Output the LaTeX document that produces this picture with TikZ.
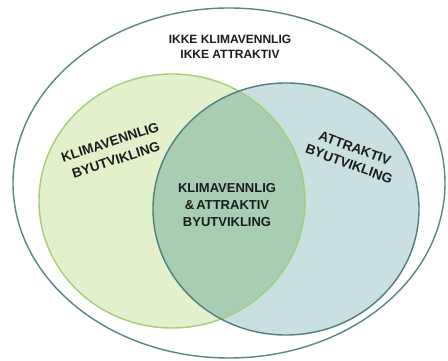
\documentclass[tikz,border=0pt]{standalone}
\usepackage{fontspec}
\setmainfont{Liberation Sans}
\definecolor{gfill}{HTML}{E3F0CC}
\definecolor{gline}{HTML}{A3CE78}
\definecolor{bfill}{HTML}{C9DFE0}
\definecolor{bline}{HTML}{4E7F80}
\definecolor{ifill}{HTML}{A8CDB3}
\definecolor{oline}{HTML}{5A8486}
\definecolor{txt}{HTML}{1C1C1C}
\begin{document}
\begin{tikzpicture}[x=1pt,y=1pt,
  lbl/.style={font=\bfseries\fontsize{13}{16}\selectfont, text=txt, align=center, inner sep=0pt}]
\useasboundingbox (0,0) rectangle (448,361);
\fill[white] (0,0) rectangle (448,361);
% outer
\draw[oline, line width=1.4pt] (229,178) ellipse [x radius=216pt, y radius=175pt];
% fills
\fill[gfill] (172,160) ellipse [x radius=133pt, y radius=127pt];
\fill[bfill] (286,152) ellipse [x radius=133pt, y radius=126pt];
\begin{scope}
  \clip (172,160) ellipse [x radius=133pt, y radius=127pt];
  \fill[ifill] (286,152) ellipse [x radius=133pt, y radius=126pt];
\end{scope}
\draw[gline, line width=1.4pt] (172,160) ellipse [x radius=133pt, y radius=127pt];
\draw[bline, line width=1.4pt] (286,152) ellipse [x radius=133pt, y radius=126pt];
% labels
\node[lbl, font=\bfseries\fontsize{12}{15}\selectfont] (none) at (230,314) {IKKE KLIMAVENNLIG\\IKKE ATTRAKTIV};
\node[lbl, font=\bfseries\fontsize{13}{17}\selectfont] (both) at (227,156) {KLIMAVENNLIG\\\&\,ATTRAKTIV\\BYUTVIKLING};
\node[lbl, rotate=18, font=\bfseries\fontsize{13.5}{18.5}\selectfont] (klima) at (113,210) {KLIMAVENNLIG\\BYUTVIKLING};
\node[lbl, rotate=-20, font=\bfseries\fontsize{13.5}{17}\selectfont] (attr) at (352,205) {ATTRAKTIV\\BYUTVIKLING};
\end{tikzpicture}
\end{document}
